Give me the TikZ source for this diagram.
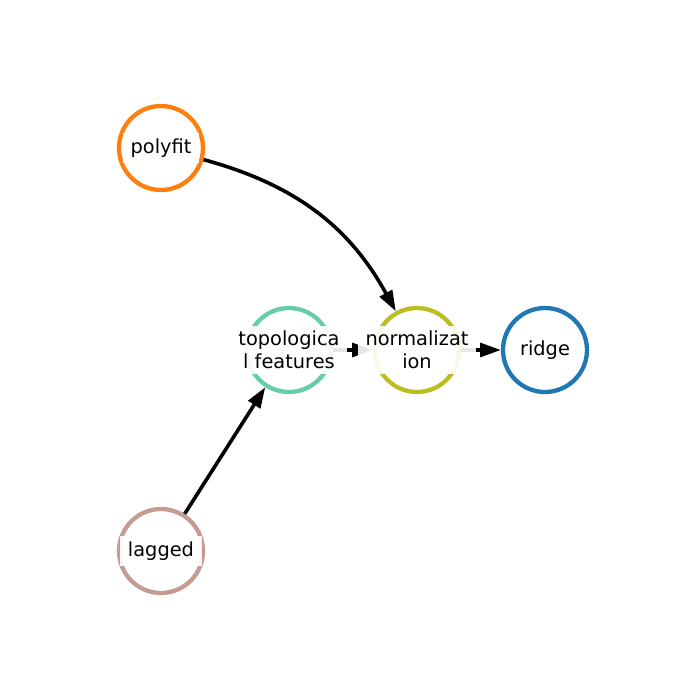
\documentclass[tikz,border=0pt]{standalone}
\usepackage{fontspec}
\setmainfont{DejaVu Sans}
\usepackage{tikz}
\usetikzlibrary{arrows.meta}
\definecolor{c_orange}{HTML}{FF7F0E}
\definecolor{c_blue}{HTML}{1F77B4}
\definecolor{c_brown}{HTML}{C49C94}
\definecolor{c_aqua}{HTML}{66CDAA}
\definecolor{c_olive}{HTML}{BCBD22}
\tikzstyle{vertex} = [circle, draw, line width=3.1pt, minimum size=60.7pt, inner sep=0pt]
\tikzstyle{tag} = [fill=white, fill opacity=0.9, text opacity=1, inner xsep=5.5pt,
	inner ysep=4pt, align=center, font=\fontsize{14}{16.3}\selectfont]
\tikzstyle{link} = [-{Triangle[length=15pt, width=10pt]}, line width=2.6pt, black]

\begin{document}
\begin{tikzpicture}[x=0.7227pt, y=-0.7227pt]
	 \fill[white] (0,0) rectangle (700,700);
	 \useasboundingbox (0,0) rectangle (700,700);

	 % circles
	 \node[vertex, draw=c_orange] (polyfit) at (161,148) {};
	 \node[vertex, draw=c_aqua] (topo) at (289,350) {};
	 \node[vertex, draw=c_olive] (norm) at (417,350) {};
	 \node[vertex, draw=c_blue] (ridge) at (545,350) {};
	 \node[vertex, draw=c_brown] (lagged) at (161,551) {};

	 % edges
	 \draw[link] (polyfit) to[bend left=23] (norm);
	 \draw[link] (lagged) -- (topo);
	 \draw[link] (topo) -- (norm);
	 \draw[link] (norm) -- (ridge);

	 % labels on top
	 \node[tag] (polyfit-text) at (polyfit) {polyfit};
	 \node[tag] (topo-text) at (topo) {topologica\\l features};
	 \node[tag] (norm-text) at (norm) {normalizat\\ion};
	 \node[tag] (ridge-text) at (ridge) {ridge};
	 \node[tag] (lagged-text) at (lagged) {lagged};
\end{tikzpicture}
\end{document}
